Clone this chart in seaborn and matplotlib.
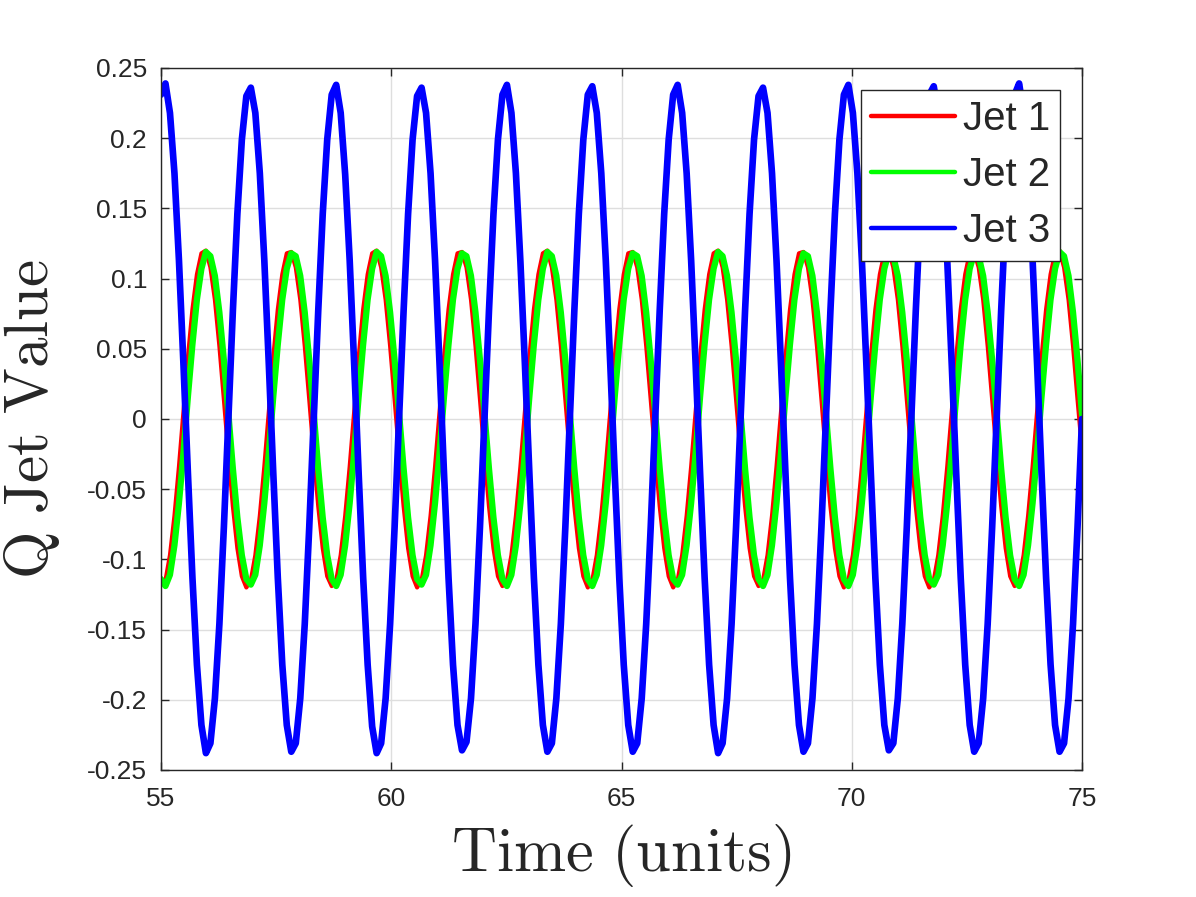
import numpy as np
import pandas as pd
import seaborn as sns
import matplotlib.pyplot as plt

# jet flow rates, one row per oscillation period
jet1 = [
    -0.116, -0.115, -0.097, -0.069, -0.034, 0.005, 0.044, 0.078, 0.103, 0.118, 0.120, 0.108, 0.085, 0.052, 0.014, -0.025, -0.062, -0.092, -0.112,
    -0.120, -0.115, -0.097, -0.069, -0.034, 0.005, 0.044, 0.078, 0.103, 0.118, 0.119, 0.108, 0.085, 0.052, 0.014, -0.025, -0.062, -0.092, -0.112,
    -0.119, -0.115, -0.097, -0.069, -0.034, 0.005, 0.044, 0.078, 0.103, 0.118, 0.120, 0.108, 0.085, 0.052, 0.014, -0.025, -0.062, -0.092, -0.112,
    -0.120, -0.115, -0.097, -0.069, -0.034, 0.005, 0.044, 0.078, 0.103, 0.118, 0.119, 0.108, 0.085, 0.052, 0.014, -0.025, -0.062, -0.092, -0.112,
    -0.119, -0.115, -0.097, -0.069, -0.034, 0.005, 0.044, 0.078, 0.103, 0.118, 0.120, 0.108, 0.085, 0.052, 0.014, -0.025, -0.062, -0.092, -0.112,
    -0.120, -0.115, -0.097, -0.069, -0.034, 0.005, 0.044, 0.078, 0.103, 0.118, 0.119, 0.108, 0.085, 0.052, 0.014, -0.025, -0.062, -0.092, -0.112,
    -0.120, -0.115, -0.097, -0.069, -0.034, 0.005, 0.044, 0.078, 0.103, 0.118, 0.120, 0.108, 0.085, 0.052, 0.014, -0.025, -0.062, -0.092, -0.112,
    -0.119, -0.115, -0.097, -0.069, -0.034, 0.005, 0.044, 0.078, 0.103, 0.118, 0.119, 0.108, 0.085, 0.052, 0.014, -0.025, -0.062, -0.092, -0.112,
    -0.120, -0.115, -0.097, -0.069, -0.034, 0.005, 0.044, 0.078, 0.103, 0.118, 0.120, 0.108, 0.085, 0.052, 0.014, -0.025, -0.062, -0.092, -0.112,
    -0.120, -0.115, -0.097, -0.069, -0.034, 0.005, 0.044, 0.078, 0.103, 0.118, 0.119, 0.108, 0.085, 0.052, 0.014, -0.025, -0.062, -0.092, -0.112,
    -0.119, -0.115, -0.097, -0.069, -0.034, 0.005, 0.044, 0.078, 0.103, 0.118, 0.120, 0.108, 0.085, 0.052, 0.014, -0.022,
]
jet2 = [
    -0.114, -0.119, -0.111, -0.090, -0.060, -0.024, 0.016, 0.053, 0.085, 0.107, 0.119, 0.116, 0.102, 0.076, 0.042, 0.004, -0.035, -0.070, -0.097,
    -0.114, -0.118, -0.111, -0.090, -0.060, -0.024, 0.016, 0.053, 0.085, 0.107, 0.118, 0.116, 0.102, 0.076, 0.042, 0.004, -0.035, -0.070, -0.097,
    -0.114, -0.119, -0.111, -0.090, -0.060, -0.024, 0.016, 0.053, 0.085, 0.107, 0.119, 0.116, 0.102, 0.076, 0.042, 0.004, -0.035, -0.070, -0.097,
    -0.114, -0.118, -0.111, -0.090, -0.060, -0.024, 0.016, 0.053, 0.085, 0.107, 0.118, 0.116, 0.102, 0.076, 0.042, 0.004, -0.035, -0.070, -0.097,
    -0.114, -0.119, -0.111, -0.090, -0.060, -0.024, 0.016, 0.053, 0.085, 0.107, 0.119, 0.116, 0.102, 0.076, 0.042, 0.004, -0.035, -0.070, -0.097,
    -0.114, -0.119, -0.111, -0.090, -0.060, -0.024, 0.016, 0.053, 0.085, 0.107, 0.118, 0.116, 0.102, 0.076, 0.042, 0.004, -0.035, -0.070, -0.097,
    -0.114, -0.118, -0.111, -0.090, -0.060, -0.024, 0.016, 0.053, 0.085, 0.107, 0.119, 0.116, 0.102, 0.076, 0.042, 0.004, -0.035, -0.070, -0.097,
    -0.114, -0.119, -0.111, -0.090, -0.060, -0.024, 0.016, 0.053, 0.085, 0.107, 0.118, 0.116, 0.102, 0.076, 0.042, 0.004, -0.035, -0.070, -0.097,
    -0.114, -0.119, -0.111, -0.090, -0.060, -0.024, 0.016, 0.053, 0.085, 0.107, 0.119, 0.116, 0.102, 0.076, 0.042, 0.004, -0.035, -0.070, -0.097,
    -0.114, -0.118, -0.111, -0.090, -0.060, -0.024, 0.016, 0.053, 0.085, 0.107, 0.118, 0.116, 0.102, 0.076, 0.042, 0.004, -0.035, -0.070, -0.097,
    -0.114, -0.119, -0.111, -0.090, -0.060, -0.024, 0.016, 0.053, 0.085, 0.107, 0.119, 0.116, 0.102, 0.076, 0.042, 0.003,
]
jet3 = [
    0.231, 0.239, 0.218, 0.175, 0.113, 0.039, -0.039, -0.113, -0.175, -0.218, -0.238, -0.231, -0.199, -0.146, -0.077, 0.000, 0.077, 0.146, 0.199,
    0.230, 0.236, 0.218, 0.175, 0.113, 0.039, -0.039, -0.113, -0.175, -0.218, -0.237, -0.231, -0.199, -0.146, -0.077, 0.000, 0.077, 0.146, 0.199,
    0.231, 0.238, 0.218, 0.174, 0.113, 0.039, -0.039, -0.113, -0.175, -0.219, -0.238, -0.231, -0.199, -0.146, -0.077, 0.001, 0.077, 0.146, 0.199,
    0.230, 0.236, 0.218, 0.175, 0.113, 0.039, -0.039, -0.113, -0.175, -0.218, -0.236, -0.230, -0.199, -0.146, -0.077, 0.000, 0.077, 0.146, 0.199,
    0.231, 0.238, 0.218, 0.175, 0.112, 0.039, -0.039, -0.113, -0.175, -0.218, -0.237, -0.231, -0.199, -0.146, -0.077, 0.000, 0.077, 0.146, 0.199,
    0.231, 0.237, 0.218, 0.175, 0.113, 0.039, -0.039, -0.113, -0.175, -0.218, -0.237, -0.231, -0.199, -0.146, -0.077, 0.000, 0.077, 0.146, 0.199,
    0.231, 0.238, 0.218, 0.175, 0.113, 0.039, -0.039, -0.113, -0.175, -0.218, -0.238, -0.231, -0.199, -0.146, -0.077, 0.000, 0.077, 0.146, 0.199,
    0.230, 0.236, 0.218, 0.175, 0.113, 0.039, -0.039, -0.113, -0.175, -0.218, -0.237, -0.231, -0.199, -0.146, -0.077, 0.000, 0.077, 0.146, 0.199,
    0.231, 0.238, 0.218, 0.175, 0.113, 0.039, -0.039, -0.113, -0.175, -0.218, -0.236, -0.231, -0.199, -0.146, -0.077, 0.000, 0.077, 0.146, 0.199,
    0.231, 0.237, 0.218, 0.175, 0.113, 0.039, -0.039, -0.113, -0.175, -0.218, -0.237, -0.231, -0.199, -0.146, -0.077, 0.000, 0.077, 0.146, 0.199,
    0.231, 0.239, 0.218, 0.175, 0.113, 0.039, -0.039, -0.113, -0.175, -0.218, -0.237, -0.231, -0.199, -0.146, -0.077, 0.000,
]
labels = ['Jet 1', 'Jet 2', 'Jet 3']
xticks = [55, 60, 65, 70, 75]
yticks = [-0.25, -0.2, -0.15, -0.1, -0.05, 0, 0.05, 0.1, 0.15, 0.2, 0.25]
ytick_labels = ['-0.25', '-0.2', '-0.15', '-0.1', '-0.05', '0', '0.05', '0.1', '0.15', '0.2', '0.25']

# sampling grid over the shown time window
time = np.linspace(55, 75, len(jet3))
df = pd.DataFrame({'time': time, 'Jet 1': jet1, 'Jet 2': jet2, 'Jet 3': jet3})

sns.set_theme(style='ticks')
plt.rcParams['font.family'] = ['Liberation Sans', 'DejaVu Sans']
plt.rcParams['mathtext.fontset'] = 'cm'
plt.rcParams['axes.unicode_minus'] = False

fig = plt.figure(figsize=(11.96, 8.97), dpi=100)
ax = fig.add_axes([0.1346, 0.1416, 0.7701, 0.7826])

sns.lineplot(data=df, x='time', y='Jet 1', color='#ff0000', lw=3, label=labels[0], ax=ax)
sns.lineplot(data=df, x='time', y='Jet 2', color='#00ff00', lw=4.5, label=labels[1], ax=ax)
sns.lineplot(data=df, x='time', y='Jet 3', color='#0000ff', lw=4.8, label=labels[2], ax=ax)

ax.set_xlim(55, 75)
ax.set_ylim(-0.25, 0.25)
ax.set_xticks(xticks)
ax.set_yticks(yticks)
ax.set_yticklabels(ytick_labels)
ax.grid(True, color='#dedede', lw=1)
ax.set_axisbelow(True)
ax.tick_params(direction='in', length=6, width=1, top=True, right=True,
               labelsize=19, colors='#262626')
ax.tick_params(axis='x', pad=12)
ax.tick_params(axis='y', pad=10)
for s in ax.spines.values():
    s.set_color('#262626')
    s.set_linewidth(1)

ax.set_xlabel(r'$\mathrm{Time\ (units)}$', fontsize=45, color='#262626', labelpad=8)
ax.set_ylabel(r'$\mathrm{Q\ Jet\ Value}$', fontsize=44, color='#262626', labelpad=18)

leg = ax.legend(loc='upper right', fontsize=29, frameon=True, fancybox=False,
                edgecolor='#262626', framealpha=1, borderaxespad=0.55,
                handlelength=2.1, handletextpad=0.18, labelspacing=0.45,
                borderpad=0.25)
leg.get_frame().set_linewidth(1)
for ln in leg.get_lines():
    ln.set_linewidth(3.2)

plt.savefig('out.png', dpi=100)
